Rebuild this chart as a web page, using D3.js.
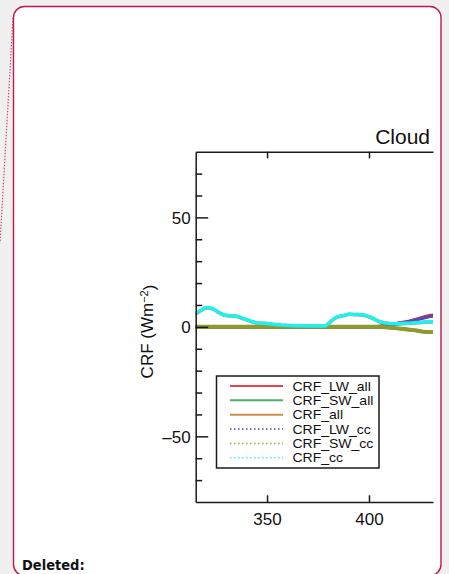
<!DOCTYPE html>
<html>
<head>
<meta charset="utf-8">
<script src="https://cdn.jsdelivr.net/npm/d3@7"></script>
<style>
  html, body { margin: 0; padding: 0; background: #f0f0f0; }
  svg { display: block; }
  text { font-family: "Liberation Sans", Arial, Helvetica, sans-serif; fill: #111; }
</style>
</head>
<body>
<svg id="chart" width="449" height="574"></svg>
<script>
// Day of year sampled along the record
const days = [315, 316, 317, 318, 319, 320, 321, 322, 323, 324, 325, 326, 327, 328, 329, 330,
  331, 332, 333, 334, 335, 336, 337, 338, 339, 340, 341, 342, 343, 344, 345,
  347, 349, 351, 353, 355, 357, 359, 361,
  364, 367, 370, 373, 376,
  378.5, 379.5,
  381, 382, 383, 384, 385, 386, 387, 388, 389, 390, 391, 392, 393, 394, 395, 396, 397, 398,
  399, 400, 401, 402, 403, 404, 405, 406, 407, 408,
  410, 412, 414, 416, 418, 420, 422, 424, 426, 428, 430, 432,
  433];

// Cloud radiative forcing series (W m-2), one value per day above
const crfLwAll = [0, 0, 0, 0, 0, 0, 0, 0, 0, 0, 0, 0, 0, 0, 0, 0,
  0, 0, 0, 0, 0, 0, 0, 0, 0, 0, 0, 0, 0, 0, 0,
  0, 0, 0, 0, 0, 0, 0, 0,
  0, 0, 0, 0, 0,
  0, 0,
  0, 0, 0, 0, 0, 0, 0, 0, 0, 0, 0, 0, 0, 0, 0, 0, 0, 0,
  0, 0, 0, 0, 0, 0, 0.2, 0.3, 0.5, 0.6,
  0.9, 1.2, 1.5, 1.9, 2.2, 2.6, 3.1, 3.6, 4.2, 4.8, 5.2, 5.4,
  5.4];
const crfSwAll = [0, 0, 0, 0, 0, 0, 0, 0, 0, 0, 0, 0, 0, 0, 0, 0,
  0, 0, 0, 0, 0, 0, 0, 0, 0, 0, 0, 0, 0, 0, 0,
  0, 0, 0, 0, 0, 0, 0, 0,
  0, 0, 0, 0, 0,
  0, 0,
  0, 0, 0, 0, 0, 0, 0, 0, 0, 0, 0, 0, 0, 0, 0, 0, 0, 0,
  0, 0, 0, 0, 0, 0, 0, -0.1, -0.1, -0.2,
  -0.3, -0.5, -0.7, -0.9, -1.1, -1.3, -1.5, -1.8, -2.1, -2.3, -2.4, -2.4,
  -2.4];
const crfAll = [6.0, 6.5, 7.2, 7.7, 8.3, 8.6, 8.7, 8.5, 8.3, 7.9, 7.3, 6.7, 6.2, 5.7, 5.3, 5.2,
  5.1, 5.0, 4.9, 5.0, 4.8, 4.5, 4.2, 3.8, 3.5, 3.2, 2.9, 2.5, 2.2, 1.9, 1.7,
  1.6, 1.5, 1.3, 1.1, 0.9, 0.7, 0.6, 0.5,
  0.4, 0.4, 0.3, 0.3, 0.3,
  0.3, 0.9,
  2.1, 3.0, 3.7, 4.3, 4.6, 4.8, 5.0, 5.2, 5.5, 5.7, 5.7, 5.6, 5.5, 5.6, 5.5, 5.4, 5.4, 5.2,
  4.9, 4.6, 4.2, 3.8, 3.3, 2.8, 2.4, 2.1, 1.8, 1.7,
  1.4, 1.3, 1.3, 1.4, 1.5, 1.6, 1.8, 1.9, 2.0, 2.2, 2.2, 2.3,
  2.3];
const crfLwCc = [0, 0, 0, 0, 0, 0, 0, 0, 0, 0, 0, 0, 0, 0, 0, 0,
  0, 0, 0, 0, 0, 0, 0, 0, 0, 0, 0, 0, 0, 0, 0,
  0, 0, 0, 0, 0, 0, 0, 0,
  0, 0, 0, 0, 0,
  0, 0,
  0, 0, 0, 0, 0, 0, 0, 0, 0, 0, 0, 0, 0, 0, 0, 0, 0, 0,
  0, 0, 0, 0, 0, 0, 0.2, 0.3, 0.5, 0.6,
  0.9, 1.2, 1.5, 1.8, 2.1, 2.5, 2.9, 3.4, 3.9, 4.4, 4.8, 5.0,
  5.0];
const crfSwCc = [0, 0, 0, 0, 0, 0, 0, 0, 0, 0, 0, 0, 0, 0, 0, 0,
  0, 0, 0, 0, 0, 0, 0, 0, 0, 0, 0, 0, 0, 0, 0,
  0, 0, 0, 0, 0, 0, 0, 0,
  0, 0, 0, 0, 0,
  0, 0,
  0, 0, 0, 0, 0, 0, 0, 0, 0, 0, 0, 0, 0, 0, 0, 0, 0, 0,
  0, 0, 0, 0, 0, 0, 0, -0.1, -0.1, -0.2,
  -0.3, -0.5, -0.7, -0.9, -1.1, -1.3, -1.5, -1.8, -2.1, -2.3, -2.4, -2.4,
  -2.4];
const crfCc = [6.1, 6.6, 7.3, 7.8, 8.4, 8.7, 8.8, 8.6, 8.4, 8.0, 7.4, 6.8, 6.3, 5.8, 5.4, 5.3,
  5.2, 5.1, 5.0, 5.1, 4.9, 4.6, 4.3, 3.9, 3.6, 3.3, 3.0, 2.6, 2.3, 2.0, 1.8,
  1.7, 1.6, 1.4, 1.2, 1.0, 0.8, 0.7, 0.6,
  0.5, 0.5, 0.4, 0.4, 0.4,
  0.4, 1.0,
  2.2, 3.1, 3.8, 4.4, 4.7, 4.9, 5.1, 5.3, 5.6, 5.8, 5.8, 5.7, 5.6, 5.7, 5.6, 5.5, 5.5, 5.3,
  5.0, 4.7, 4.3, 3.9, 3.4, 2.9, 2.5, 2.2, 1.9, 1.8,
  1.5, 1.4, 1.4, 1.5, 1.6, 1.7, 1.9, 2.0, 2.1, 2.3, 2.3, 2.4,
  2.4];

const seriesNames = ["CRF_LW_all", "CRF_SW_all", "CRF_all", "CRF_LW_cc", "CRF_SW_cc", "CRF_cc"];
const xTickValues = [350, 400];
const yMajorTicks = [-50, 0, 50];
const yMinorTicks = [-70, -60, -40, -30, -20, -10, 10, 20, 30, 40, 60, 70];
const titleText = "Cloud";
const noteText = "Deleted:";

const series = [
  { name: seriesNames[0], values: crfLwAll, color: "#e2333f", legendColor: "#e8434a", dash: null, width: 3.5 },
  { name: seriesNames[1], values: crfSwAll, color: "#3fa35a", legendColor: "#4cb06a", dash: null, width: 3.5 },
  { name: seriesNames[2], values: crfAll, color: "#c58a48", legendColor: "#cc8f4c", dash: null, width: 3.5 },
  { name: seriesNames[3], values: crfLwCc, color: "#6347a6", legendColor: "#4e46b4", dash: "1.5,2.5", width: 3.5 },
  { name: seriesNames[4], values: crfSwCc, color: "#8f9a2c", legendColor: "#a4a23a", dash: "1.5,2.5", width: 4 },
  { name: seriesNames[5], values: crfCc, color: "#1ef0f0", legendColor: "#3cf2f2", dash: "1.5,2.5", width: 3.5 }
];

const svg = d3.select("#chart");

// Page decoration: comment balloon frame and its connector
svg.append("line")
  .attr("x1", 13).attr("y1", 18).attr("x2", 0).attr("y2", 243)
  .attr("stroke", "#d2506c").attr("stroke-width", 1.2)
  .attr("stroke-dasharray", "1.5,1.5");
svg.append("rect")
  .attr("x", 13.5).attr("y", 6.5).attr("width", 427.5).attr("height", 569)
  .attr("rx", 11).attr("ry", 11)
  .attr("fill", "#ffffff").attr("stroke", "#c21848").attr("stroke-width", 1.4);

svg.append("text")
  .attr("x", 22).attr("y", 570)
  .style("font-family", "'DejaVu Sans Condensed', 'DejaVu Sans', Verdana, sans-serif")
  .style("font-weight", "bold").style("font-size", "14.5px")
  .text(noteText);

// Plot geometry
const plotLeft = 195.7, plotRight = 433, plotTop = 151.7, plotBottom = 502;
const x = d3.scaleLinear().domain([315, 431.4]).range([plotLeft, plotRight]);
const y = d3.scaleLinear().domain([-80, 80]).range([plotBottom, plotTop]);

svg.append("defs").append("clipPath").attr("id", "plotClip")
  .append("rect").attr("x", plotLeft).attr("y", plotTop - 2)
  .attr("width", plotRight - plotLeft).attr("height", plotBottom - plotTop + 4);

// Data lines
const line = d3.line().x((d, i) => x(days[i])).y(d => y(d));
const gLines = svg.append("g").attr("clip-path", "url(#plotClip)");
series.forEach(s => {
  gLines.append("path")
    .datum(s.values)
    .attr("d", line)
    .attr("fill", "none")
    .attr("stroke", s.color)
    .attr("stroke-width", s.width)
    .attr("stroke-linejoin", "round")
    .attr("stroke-linecap", "round");
});

// Axes
const axisColor = "#1a1a1a";
function styleAxis(g) {
  g.selectAll("path.domain").attr("stroke", axisColor).attr("stroke-width", 1.5);
  g.selectAll(".tick line").attr("stroke", axisColor).attr("stroke-width", 1.5);
  g.selectAll(".tick text")
    .style("font-family", "'Liberation Sans', Arial, sans-serif")
    .style("font-size", "17px").attr("fill", "#111");
}

const fmt = d => (d < 0 ? "\u2013" + Math.abs(d) : String(d));

svg.append("g").attr("transform", `translate(${plotLeft},0)`)
  .call(d3.axisLeft(y).tickValues(yMajorTicks).tickFormat(fmt)
    .tickSizeInner(-12.5).tickSizeOuter(0).tickPadding(5))
  .call(styleAxis)
  .call(g => g.selectAll(".tick text").attr("dy", "0.36em"));

svg.append("g").attr("transform", `translate(${plotLeft},0)`)
  .call(d3.axisLeft(y).tickValues(yMinorTicks).tickFormat("")
    .tickSizeInner(-6.5).tickSizeOuter(0))
  .call(styleAxis)
  .call(g => g.select("path.domain").remove());

svg.append("g").attr("transform", `translate(0,${plotBottom})`)
  .call(d3.axisBottom(x).tickValues(xTickValues).tickFormat(d3.format("d"))
    .tickSizeInner(-6.7).tickSizeOuter(0).tickPadding(0))
  .call(styleAxis)
  .call(g => g.selectAll(".tick text").attr("y", 11).attr("dy", "0.71em"));

svg.append("g").attr("transform", `translate(0,${plotTop})`)
  .call(d3.axisTop(x).tickValues(xTickValues).tickFormat("")
    .tickSizeInner(-6.7).tickSizeOuter(0))
  .call(styleAxis);

// Title
svg.append("text")
  .attr("x", 430).attr("y", 144)
  .attr("text-anchor", "end")
  .style("font-size", "21px")
  .text(titleText);

// Y axis label
const yl = svg.append("text")
  .attr("transform", "translate(152.5,331.5) rotate(-90)")
  .attr("text-anchor", "middle")
  .style("font-size", "17px");
yl.append("tspan").text("CRF (Wm");
yl.append("tspan").attr("dy", "-0.45em").style("font-size", "11px").text("\u22122");
yl.append("tspan").attr("dy", "0.45em").text(")");

// Legend: rows are tightly packed, so labels use a compact size widened to the row width
const lg = svg.append("g");
lg.append("rect")
  .attr("x", 216.5).attr("y", 376).attr("width", 162.5).attr("height", 92)
  .attr("fill", "#ffffff").attr("stroke", axisColor).attr("stroke-width", 1.5);
const legendFont = 12.6, legendStretch = 14 / 12.6;
series.forEach((s, i) => {
  const cy = 386 + i * 14.35;
  lg.append("line")
    .attr("x1", 230).attr("x2", 283).attr("y1", cy).attr("y2", cy)
    .attr("stroke", s.legendColor)
    .attr("stroke-width", s.dash ? 1.5 : 2)
    .attr("stroke-dasharray", s.dash);
  const t = lg.append("text")
    .attr("x", 292.5).attr("y", cy + 4.6)
    .style("font-size", legendFont + "px")
    .text(s.name);
  const w = t.node().getComputedTextLength();
  t.attr("textLength", w * legendStretch).attr("lengthAdjust", "spacingAndGlyphs");
});
</script>
</body>
</html>
